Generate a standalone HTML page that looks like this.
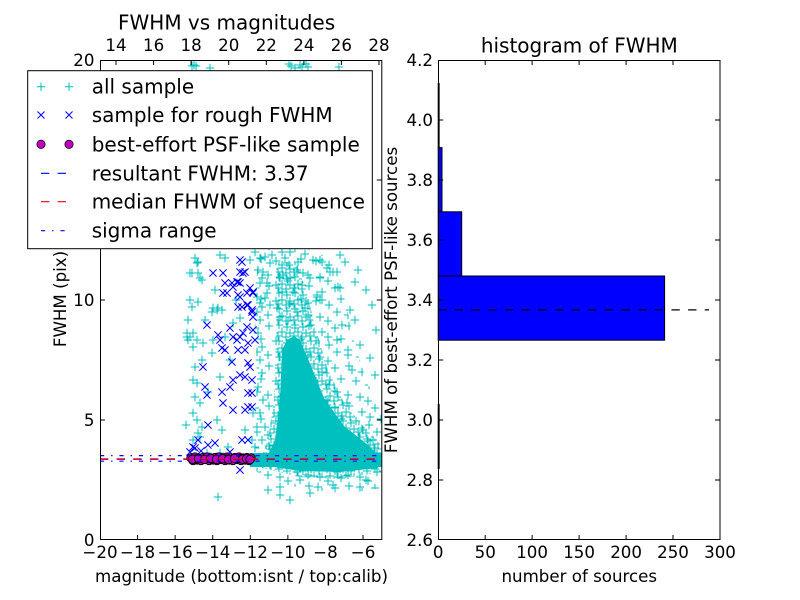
<!DOCTYPE html>
<html><head><meta charset="utf-8">
<style>
html,body{margin:0;padding:0;background:#fff;}
svg{display:block;font-family:"DejaVu Sans","Liberation Sans",sans-serif;}
</style></head><body>
<svg width="800" height="600" viewBox="0 0 800 600" xmlns="http://www.w3.org/2000/svg" xmlns:xlink="http://www.w3.org/1999/xlink">
<rect width="800" height="600" fill="#fff"/>
<defs>
 <clipPath id="cl"><rect x="100" y="60" width="281.8" height="480"/></clipPath>
 <clipPath id="chalo"><polygon points="258,248 300,246 330,258 345,300 355,345 368,385 382,405 382,488 345,494 300,488 268,480 255,470 254,430 257,380 255,320"/></clipPath>
 <clipPath id="cdense"><polygon points="276,262 296,262 306,290 316,330 328,370 345,405 365,428 381,445 381,472 340,479 300,477 262,468 262,455 268,440 274,400 276,330"/></clipPath>
 <path id="cp" d="M-4.2 0h8.4M0 -4.2v8.4" stroke="#00bfbf" stroke-width="1" fill="none"/>
 <path id="bx" d="M-3.6 -3.6l7.2 7.2M-3.6 3.6l7.2 -7.2" stroke="#0000ff" stroke-width="1" fill="none"/>
 <g id="t1">
  <use href="#cp" x="3" y="4"/><use href="#cp" x="17" y="2"/><use href="#cp" x="30" y="8"/><use href="#cp" x="9" y="15"/>
  <use href="#cp" x="24" y="17"/><use href="#cp" x="37" y="21"/><use href="#cp" x="5" y="28"/><use href="#cp" x="16" y="31"/>
  <use href="#cp" x="28" y="33"/><use href="#cp" x="36" y="37"/>
 </g>
 <g id="r1"><use href="#t1" x="0"/><use href="#t1" x="40"/><use href="#t1" x="80"/><use href="#t1" x="120"/></g>
 <g id="b1"><use href="#r1" y="0"/><use href="#r1" y="40"/><use href="#r1" y="80"/><use href="#r1" y="120"/><use href="#r1" y="160"/><use href="#r1" y="200"/><use href="#r1" y="240"/></g>
 <g id="t2">
  <use href="#cp" x="3" y="3"/><use href="#cp" x="11" y="5"/><use href="#cp" x="6" y="10"/><use href="#cp" x="14" y="11"/>
  <use href="#cp" x="2" y="14"/><use href="#cp" x="10" y="15"/>
 </g>
 <g id="r2"><use href="#t2" x="0"/><use href="#t2" x="16"/><use href="#t2" x="32"/><use href="#t2" x="48"/><use href="#t2" x="64"/><use href="#t2" x="80"/><use href="#t2" x="96"/><use href="#t2" x="112"/></g>
 <g id="b2"><use href="#r2" y="0"/><use href="#r2" y="16"/><use href="#r2" y="32"/><use href="#r2" y="48"/><use href="#r2" y="64"/><use href="#r2" y="80"/><use href="#r2" y="96"/><use href="#r2" y="112"/><use href="#r2" y="128"/><use href="#r2" y="144"/><use href="#r2" y="160"/><use href="#r2" y="176"/><use href="#r2" y="192"/><use href="#r2" y="208"/></g>
</defs>

<g clip-path="url(#cl)">
 <g clip-path="url(#chalo)"><use href="#b1" x="252" y="244"/></g>
 <g clip-path="url(#cdense)"><use href="#b2" x="260" y="258"/></g>
 <!-- solid core -->
 <polygon points="282,350 287,340 294,336 300,340 311,366 324,398 344,426 368,445 378,455 378,468 340,472 300,471 268,466 268,455 275,440 280,400" fill="#00bfbf"/>
 <!-- band -->
 <rect x="250" y="453" width="132" height="14" fill="#00bfbf"/>
 <!-- explicit cyan -->
 <g>
  <use href="#cp" x="195" y="258"/><use href="#cp" x="197" y="263"/><use href="#cp" x="190" y="273"/><use href="#cp" x="198" y="273"/>
  <use href="#cp" x="202" y="280"/><use href="#cp" x="220" y="255"/><use href="#cp" x="225" y="258"/><use href="#cp" x="198" y="302"/>
  <use href="#cp" x="192" y="307"/><use href="#cp" x="212" y="312"/><use href="#cp" x="217" y="310"/><use href="#cp" x="205" y="320"/>
  <use href="#cp" x="193" y="333"/><use href="#cp" x="188" y="340"/><use href="#cp" x="197" y="340"/><use href="#cp" x="193" y="347"/>
  <use href="#cp" x="203" y="343"/><use href="#cp" x="213" y="340"/><use href="#cp" x="212" y="353"/><use href="#cp" x="202" y="360"/>
  <use href="#cp" x="195" y="367"/><use href="#cp" x="193" y="380"/><use href="#cp" x="197" y="383"/><use href="#cp" x="195" y="397"/>
  <use href="#cp" x="200" y="403"/><use href="#cp" x="193" y="413"/><use href="#cp" x="197" y="420"/><use href="#cp" x="202" y="427"/>
  <use href="#cp" x="198" y="433"/><use href="#cp" x="193" y="440"/><use href="#cp" x="222" y="430"/><use href="#cp" x="217" y="420"/>
  <use href="#cp" x="220" y="377"/><use href="#cp" x="233" y="323"/><use href="#cp" x="225" y="337"/><use href="#cp" x="250" y="260"/>
  <use href="#cp" x="255" y="252"/><use href="#cp" x="258" y="270"/><use href="#cp" x="260" y="283"/><use href="#cp" x="257" y="297"/>
  <use href="#cp" x="262" y="307"/><use href="#cp" x="260" y="320"/><use href="#cp" x="258" y="333"/><use href="#cp" x="262" y="347"/>
  <use href="#cp" x="260" y="360"/><use href="#cp" x="262" y="373"/><use href="#cp" x="258" y="387"/><use href="#cp" x="263" y="400"/>
  <use href="#cp" x="260" y="413"/><use href="#cp" x="257" y="427"/><use href="#cp" x="265" y="427"/><use href="#cp" x="262" y="440"/>
  <use href="#cp" x="253" y="413"/><use href="#cp" x="252" y="440"/><use href="#cp" x="255" y="447"/><use href="#cp" x="207" y="453"/>
  <use href="#cp" x="220" y="453"/><use href="#cp" x="228" y="447"/><use href="#cp" x="218" y="497"/><use href="#cp" x="187" y="337"/>
  <use href="#cp" x="190" y="337"/><use href="#cp" x="187" y="333"/><use href="#cp" x="200" y="437"/><use href="#cp" x="200" y="278"/>
  <use href="#cp" x="215" y="290"/><use href="#cp" x="222" y="310"/><use href="#cp" x="218" y="308"/><use href="#cp" x="213" y="308"/>
  <use href="#cp" x="198" y="262"/><use href="#cp" x="192" y="273"/><use href="#cp" x="188" y="320"/><use href="#cp" x="190" y="300"/>
  <use href="#cp" x="208" y="392"/><use href="#cp" x="186" y="425"/><use href="#cp" x="230" y="360"/><use href="#cp" x="245" y="430"/>
  <use href="#cp" x="240" y="318"/><use href="#cp" x="236" y="300"/>

  <use href="#cp" x="370" y="358"/><use href="#cp" x="355" y="282"/><use href="#cp" x="347" y="403"/><use href="#cp" x="370" y="417"/>
  <use href="#cp" x="338" y="287"/><use href="#cp" x="333" y="272"/><use href="#cp" x="327" y="268"/><use href="#cp" x="313" y="260"/>
  <use href="#cp" x="320" y="260"/><use href="#cp" x="328" y="337"/><use href="#cp" x="337" y="340"/><use href="#cp" x="322" y="300"/>
  <use href="#cp" x="317" y="297"/><use href="#cp" x="363" y="430"/><use href="#cp" x="373" y="440"/><use href="#cp" x="377" y="453"/>
  <use href="#cp" x="280" y="487"/><use href="#cp" x="280" y="495"/><use href="#cp" x="300" y="480"/><use href="#cp" x="318" y="487"/>
  <use href="#cp" x="333" y="485"/><use href="#cp" x="360" y="487"/><use href="#cp" x="260" y="258"/><use href="#cp" x="265" y="257"/>
  <use href="#cp" x="272" y="255"/><use href="#cp" x="270" y="263"/><use href="#cp" x="282" y="265"/><use href="#cp" x="298" y="262"/>
  <use href="#cp" x="322" y="262"/><use href="#cp" x="297" y="270"/><use href="#cp" x="303" y="273"/><use href="#cp" x="263" y="272"/>
  <use href="#cp" x="262" y="278"/><use href="#cp" x="267" y="283"/><use href="#cp" x="280" y="278"/><use href="#cp" x="283" y="275"/>
  <use href="#cp" x="290" y="278"/><use href="#cp" x="310" y="278"/><use href="#cp" x="320" y="278"/><use href="#cp" x="330" y="272"/>
  <use href="#cp" x="337" y="272"/><use href="#cp" x="340" y="288"/><use href="#cp" x="302" y="285"/><use href="#cp" x="293" y="292"/>
  <use href="#cp" x="317" y="295"/><use href="#cp" x="320" y="300"/><use href="#cp" x="267" y="293"/><use href="#cp" x="265" y="298"/>
  <use href="#cp" x="260" y="303"/><use href="#cp" x="270" y="305"/><use href="#cp" x="277" y="308"/><use href="#cp" x="290" y="303"/>
  <use href="#cp" x="305" y="308"/><use href="#cp" x="308" y="303"/><use href="#cp" x="345" y="262"/><use href="#cp" x="358" y="270"/>
  <use href="#cp" x="366" y="290"/><use href="#cp" x="372" y="305"/><use href="#cp" x="350" y="310"/><use href="#cp" x="355" y="320"/>
  <use href="#cp" x="376" y="330"/><use href="#cp" x="342" y="325"/><use href="#cp" x="348" y="350"/><use href="#cp" x="360" y="345"/>
  <use href="#cp" x="375" y="375"/><use href="#cp" x="352" y="370"/><use href="#cp" x="290" y="252"/><use href="#cp" x="305" y="254"/>
  <use href="#cp" x="340" y="255"/><use href="#cp" x="268" y="490"/><use href="#cp" x="290" y="500"/><use href="#cp" x="341" y="478"/>
  <use href="#cp" x="366" y="480"/><use href="#cp" x="310" y="493"/><use href="#cp" x="285" y="258"/><use href="#cp" x="276" y="285"/>

  <use href="#cp" x="192" y="66"/><use href="#cp" x="194" y="65"/><use href="#cp" x="196" y="66"/><use href="#cp" x="210" y="68"/>
  <use href="#cp" x="289" y="64"/><use href="#cp" x="291" y="66"/><use href="#cp" x="295" y="68"/><use href="#cp" x="300" y="65"/>
  <use href="#cp" x="302" y="67"/><use href="#cp" x="306" y="64"/><use href="#cp" x="308" y="67"/><use href="#cp" x="339" y="67"/>
 </g>
 <!-- blue x -->
 <g>
  <use href="#bx" x="213" y="273"/><use href="#bx" x="223" y="273"/><use href="#bx" x="225" y="283"/><use href="#bx" x="223" y="293"/>
  <use href="#bx" x="242" y="262"/><use href="#bx" x="240" y="272"/><use href="#bx" x="243" y="273"/><use href="#bx" x="237" y="282"/>
  <use href="#bx" x="240" y="283"/><use href="#bx" x="233" y="287"/><use href="#bx" x="238" y="295"/><use href="#bx" x="247" y="293"/>
  <use href="#bx" x="253" y="292"/><use href="#bx" x="248" y="305"/><use href="#bx" x="242" y="307"/><use href="#bx" x="252" y="310"/>
  <use href="#bx" x="207" y="325"/><use href="#bx" x="218" y="335"/><use href="#bx" x="220" y="340"/><use href="#bx" x="222" y="348"/>
  <use href="#bx" x="225" y="350"/><use href="#bx" x="230" y="328"/><use href="#bx" x="237" y="340"/><use href="#bx" x="240" y="337"/>
  <use href="#bx" x="243" y="333"/><use href="#bx" x="247" y="327"/><use href="#bx" x="253" y="330"/><use href="#bx" x="255" y="340"/>
  <use href="#bx" x="238" y="350"/><use href="#bx" x="245" y="350"/><use href="#bx" x="248" y="343"/><use href="#bx" x="203" y="367"/>
  <use href="#bx" x="232" y="362"/><use href="#bx" x="248" y="363"/><use href="#bx" x="250" y="367"/><use href="#bx" x="240" y="375"/>
  <use href="#bx" x="245" y="377"/><use href="#bx" x="252" y="380"/><use href="#bx" x="205" y="387"/><use href="#bx" x="207" y="395"/>
  <use href="#bx" x="222" y="392"/><use href="#bx" x="230" y="387"/><use href="#bx" x="233" y="380"/><use href="#bx" x="248" y="393"/>
  <use href="#bx" x="252" y="393"/><use href="#bx" x="223" y="403"/><use href="#bx" x="233" y="410"/><use href="#bx" x="245" y="410"/>
  <use href="#bx" x="248" y="407"/><use href="#bx" x="252" y="407"/><use href="#bx" x="208" y="425"/><use href="#bx" x="198" y="440"/>
  <use href="#bx" x="195" y="448"/><use href="#bx" x="208" y="445"/><use href="#bx" x="215" y="443"/><use href="#bx" x="242" y="440"/>
  <use href="#bx" x="248" y="440"/><use href="#bx" x="240" y="470"/><use href="#bx" x="193" y="447"/><use href="#bx" x="253" y="317"/>
  <use href="#bx" x="233" y="337"/><use href="#bx" x="240" y="260"/><use href="#bx" x="245" y="272"/><use href="#bx" x="232" y="283"/>
  <use href="#bx" x="238" y="282"/><use href="#bx" x="227" y="293"/><use href="#bx" x="250" y="288"/><use href="#bx" x="253" y="293"/>
  <use href="#bx" x="240" y="297"/><use href="#bx" x="247" y="305"/><use href="#bx" x="252" y="312"/><use href="#bx" x="238" y="307"/>
  <use href="#bx" x="190" y="452"/><use href="#bx" x="201" y="451"/><use href="#bx" x="230" y="452"/>
 </g>
 <!-- magenta circles -->
 <g fill="#bf00bf" stroke="#000" stroke-width="0.9">
  <circle cx="191" cy="458" r="4.2"/><circle cx="193" cy="460.5" r="4.2"/><circle cx="195" cy="457" r="4.2"/><circle cx="197" cy="460" r="4.2"/>
  <circle cx="199" cy="458" r="4.2"/><circle cx="201" cy="460.5" r="4.2"/><circle cx="203" cy="457.5" r="4.2"/><circle cx="205" cy="459.5" r="4.2"/>
  <circle cx="207" cy="457" r="4.2"/><circle cx="209" cy="460.5" r="4.2"/><circle cx="211" cy="458" r="4.2"/><circle cx="213" cy="460" r="4.2"/>
  <circle cx="215" cy="457.5" r="4.2"/><circle cx="217" cy="460.5" r="4.2"/><circle cx="219" cy="457" r="4.2"/><circle cx="221" cy="459.5" r="4.2"/>
  <circle cx="223" cy="458" r="4.2"/><circle cx="225" cy="460.5" r="4.2"/><circle cx="227" cy="457" r="4.2"/><circle cx="229" cy="460" r="4.2"/>
  <circle cx="231" cy="458" r="4.2"/><circle cx="233" cy="460.5" r="4.2"/><circle cx="235" cy="457.5" r="4.2"/><circle cx="237" cy="459.5" r="4.2"/>
  <circle cx="239" cy="457" r="4.2"/><circle cx="241" cy="460.5" r="4.2"/><circle cx="243" cy="458" r="4.2"/><circle cx="245" cy="460" r="4.2"/>
  <circle cx="247" cy="457.5" r="4.2"/><circle cx="249" cy="460.5" r="4.2"/><circle cx="251" cy="458" r="4.2"/>
  <circle cx="196" cy="459" r="4.2"/><circle cx="212" cy="459" r="4.2"/><circle cx="226" cy="459" r="4.2"/><circle cx="240" cy="458.5" r="4.2"/>
  <circle cx="192.5" cy="459.2" r="4.2"/><circle cx="198.5" cy="458.6" r="4.2"/><circle cx="204.5" cy="459.4" r="4.2"/><circle cx="210.5" cy="458.4" r="4.2"/>
  <circle cx="216.5" cy="459.3" r="4.2"/><circle cx="222.5" cy="458.7" r="4.2"/><circle cx="228.5" cy="459.5" r="4.2"/><circle cx="234.5" cy="458.5" r="4.2"/>
  <circle cx="242.5" cy="459.2" r="4.2"/><circle cx="246.5" cy="458.8" r="4.2"/><circle cx="250" cy="459.6" r="4.2"/>
 </g>
 <line x1="100" y1="459.3" x2="382" y2="459.3" stroke="#0000ff" stroke-width="1.2" stroke-dasharray="8.33 8.33"/>
 <line x1="100" y1="458.9" x2="382" y2="458.9" stroke="#ff0000" stroke-width="1.2" stroke-dasharray="8.33 8.33"/>
 <line x1="100" y1="455.6" x2="382" y2="455.6" stroke="#0000ff" stroke-width="1.2" stroke-dasharray="4.17 6.94 1.39 6.94"/>
 <line x1="100" y1="461.2" x2="382" y2="461.2" stroke="#0000ff" stroke-width="1.2" stroke-dasharray="4.17 6.94 1.39 6.94"/>
</g>

<!-- left axes frame & ticks -->
<rect x="100.5" y="60.5" width="281.3" height="479" fill="none" stroke="#000" stroke-width="1"/>
<path fill="none" stroke="#000" stroke-width="1" d="M137.57 540v-5M175.15 540v-5M212.72 540v-5M250.3 540v-5M287.87 540v-5M325.44 540v-5M363.02 540v-5
M116 60v5M153.6 60v5M191.1 60v5M228.7 60v5M266.3 60v5M303.9 60v5M341.4 60v5M379 60v5
M100 420h5M100 300h5M100 180h5M381.8 420h-5M381.8 300h-5M381.8 180h-5"/>
<g font-size="16.67" fill="#000" text-anchor="middle">
 <text x="100" y="558">−20</text><text x="137.57" y="558">−18</text><text x="175.15" y="558">−16</text><text x="212.72" y="558">−14</text>
 <text x="250.3" y="558">−12</text><text x="287.87" y="558">−10</text><text x="325.44" y="558">−8</text><text x="363.02" y="558">−6</text>
 <text x="116" y="51">14</text><text x="153.6" y="51">16</text><text x="191.1" y="51">18</text><text x="228.7" y="51">20</text>
 <text x="266.3" y="51">22</text><text x="303.9" y="51">24</text><text x="341.4" y="51">26</text><text x="379" y="51">28</text>
</g>
<g font-size="16.67" fill="#000" text-anchor="end">
 <text x="94.5" y="546">0</text><text x="94.5" y="426">5</text><text x="94.5" y="306">10</text><text x="94.5" y="66">20</text>
</g>

<!-- left labels -->
<text x="118" y="29.5" font-size="20">FWHM vs magnitudes</text>
<text x="241.5" y="582" font-size="16.67" text-anchor="middle">magnitude (bottom:isnt / top:calib)</text>
<text transform="translate(66,299) rotate(-90)" font-size="16.67" text-anchor="middle">FWHM (pix)</text>

<!-- legend -->
<rect x="27.7" y="70.7" width="344.6" height="178" fill="#fff" stroke="#000" stroke-width="1"/>
<g font-size="20" fill="#000">
 <text x="91.7" y="93.7">all sample</text>
 <text x="91.7" y="122">sample for rough FWHM</text>
 <text x="91.7" y="151.3">best-effort PSF-like sample</text>
 <text x="91.7" y="180.3">resultant FWHM: 3.37</text>
 <text x="91.7" y="208.7">median FHWM of sequence</text>
 <text x="91.7" y="237.7">sigma range</text>
</g>
<path d="M36.8 86.7h8.4M41 82.5v8.4M64.8 86.7h8.4M69 82.5v8.4" stroke="#00bfbf" stroke-width="1" fill="none"/>
<path d="M37.5 111.5l7 7m0 -7l-7 7M65.5 111.5l7 7m0 -7l-7 7" stroke="#0000ff" stroke-width="1" fill="none"/>
<circle cx="41" cy="144.3" r="4.2" fill="#bf00bf" stroke="#000" stroke-width="0.7"/>
<circle cx="69" cy="144.3" r="4.2" fill="#bf00bf" stroke="#000" stroke-width="0.7"/>
<line x1="41" y1="173.3" x2="69" y2="173.3" stroke="#0000ff" stroke-width="1.2" stroke-dasharray="8.33 8.33"/>
<line x1="41" y1="201.7" x2="69" y2="201.7" stroke="#ff0000" stroke-width="1.2" stroke-dasharray="8.33 8.33"/>
<line x1="41" y1="230.7" x2="69" y2="230.7" stroke="#0000ff" stroke-width="1.2" stroke-dasharray="4.17 6.94 1.39 6.94"/>

<!-- right axes -->
<g fill="#0000ff" stroke="#000" stroke-width="1">
 <rect x="438.2" y="83.4" width="0.94" height="64.2"/>
 <rect x="438.2" y="147.6" width="3.8" height="64.2"/>
 <rect x="438.2" y="211.8" width="23.5" height="64.2"/>
 <rect x="438.2" y="276" width="226.4" height="64.2"/>
 <rect x="438.2" y="404.4" width="0.94" height="64.2"/>
</g>
<line x1="438.2" y1="309.9" x2="709" y2="309.9" stroke="#000" stroke-width="1.2" stroke-dasharray="8.33 8.33"/>
<rect x="438.5" y="60.5" width="281.5" height="479" fill="none" stroke="#000" stroke-width="1"/>
<path fill="none" stroke="#000" stroke-width="1" d="M485.2 540v-5M532.1 540v-5M579.1 540v-5M626.1 540v-5M673 540v-5
M485.2 60v5M532.1 60v5M579.1 60v5M626.1 60v5M673 60v5
M438.2 480h5M438.2 420h5M438.2 360h5M438.2 300h5M438.2 240h5M438.2 180h5M438.2 120h5
M720 480h-5M720 420h-5M720 360h-5M720 300h-5M720 240h-5M720 180h-5M720 120h-5"/>
<g font-size="16.67" fill="#000" text-anchor="middle">
 <text x="438.2" y="558">0</text><text x="485.2" y="558">50</text><text x="532.1" y="558">100</text><text x="579.1" y="558">150</text>
 <text x="626.1" y="558">200</text><text x="673" y="558">250</text><text x="720" y="558">300</text>
</g>
<g font-size="16.67" fill="#000" text-anchor="end">
 <text x="433" y="546">2.6</text><text x="433" y="486">2.8</text><text x="433" y="426">3.0</text><text x="433" y="366">3.2</text>
 <text x="433" y="306">3.4</text><text x="433" y="246">3.6</text><text x="433" y="186">3.8</text><text x="433" y="126">4.0</text>
 <text x="433" y="66">4.2</text>
</g>
<text x="579.3" y="52.7" font-size="20" text-anchor="middle">histogram of FWHM</text>
<text x="579.3" y="582" font-size="16.67" text-anchor="middle">number of sources</text>
<text transform="translate(397,300) rotate(-90)" font-size="16.67" text-anchor="middle">FWHM of best-effort PSF-like sources</text>
</svg>
</body></html>
